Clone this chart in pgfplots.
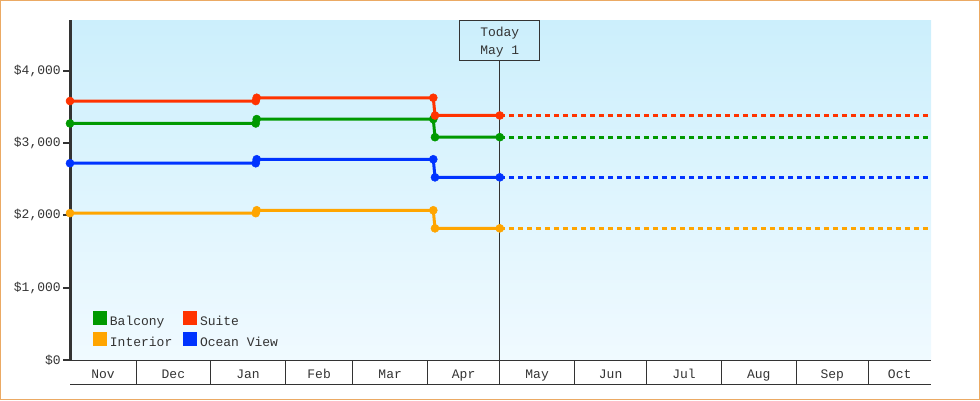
\documentclass[border=0pt]{standalone}
\usepackage{pgfplots}
\pgfplotsset{compat=1.18}
\usepackage{fontspec}
\setmainfont{Liberation Mono}
\definecolor{ink}{RGB}{51,51,51}
\definecolor{bgtop}{RGB}{204,239,252}
\definecolor{bgbot}{RGB}{240,250,255}
\definecolor{frame}{RGB}{235,170,100}
\definecolor{cgreen}{RGB}{0,153,0}
\definecolor{cred}{RGB}{255,51,0}
\definecolor{corange}{RGB}{255,165,0}
\definecolor{cblue}{RGB}{0,51,255}
\newcommand{\chartfont}{\fontsize{9.75pt}{13.5pt}\selectfont}
\begin{document}
\begin{tikzpicture}
\useasboundingbox (0,0) rectangle (735pt,300pt);
\begin{axis}[
  at={(52.5pt,30pt)}, anchor=south west,
  scale only axis, width=645.75pt, height=255pt,
  xmin=2.6, xmax=360, ymin=0, ymax=4700,
  axis x line*=bottom, axis y line*=left,
  x axis line style={ink, line width=0.75pt},
  y axis line style={ink, line width=2.25pt},
  axis background/.style={top color=bgtop, bottom color=bgbot},
  tick align=outside,
  major tick length=3.75pt,
  % month names centred in their boxes
  xtick={16.3,45.5,76.5,106,135.5,166,196.5,227,257.5,288.5,319,347},
  xticklabels={Nov,Dec,Jan,Feb,Mar,Apr,May,Jun,Jul,Aug,Sep,Oct},
  xtick style={draw=none},
  xticklabel style={anchor=base, yshift=-9.75pt},
  % month boundaries
  extra x ticks={30,61,92,120,151,181,212,242,273,304,334},
  extra x tick labels={},
  extra x tick style={major tick length=18pt, xtick style={draw=ink, line width=0.75pt}},
  ytick={0,1000,2000,3000,4000},
  extra y ticks={0,1000,2000,3000,4000},
  extra y tick labels={},
  extra y tick style={major tick length=5pt, tick align=outside,
    ytick style={draw=ink, line width=1.5pt}},
  scaled y ticks=false,
  yticklabel={\$\pgfmathprintnumber{\tick}},
  /pgf/number format/.cd, fixed, precision=0, 1000 sep={,}, assume math mode=true,
  /pgfplots/.cd,
  tick label style={font=\chartfont, text=ink},
  yticklabel style={anchor=east, inner sep=0pt, xshift=-3pt},
  legend columns=2,
  legend cell align=left,
  legend style={at={(axis description cs:0,0)}, anchor=south west,
    xshift=17.25pt, yshift=5pt, draw=none, fill=none, inner sep=0pt,
    font=\chartfont, text=ink,
    nodes={inner sep=0pt, text height=8pt, text depth=5pt},
    /tikz/every odd column/.append style={column sep=2pt},
    /tikz/every even column/.append style={column sep=8.25pt}},
  legend image code/.code={\fill[#1] (0pt,0pt) rectangle (8.25pt,8.25pt);},
  every axis plot/.append style={line width=2.25pt, mark=*, mark size=3pt,
    mark options={solid, line width=0.4pt}},
]
% today marker
\addplot[ink, line width=0.75pt, mark=none, forget plot] coordinates {(181,0) (181,4148)};
\node[draw=ink, line width=0.75pt, anchor=north, minimum width=60pt, minimum height=30pt,
  align=center, inner sep=0pt, font=\chartfont, text=ink] at (axis cs:181,4700) {\strut Today\\May 1};

% Balcony
\addplot[cgreen] coordinates {(2.6,3270) (79.7,3270) (80.1,3330) (153.4,3330) (154.1,3080) (181,3080)};
\addlegendentry{Balcony}
% Suite
\addplot[cred] coordinates {(2.6,3580) (79.7,3580) (80.1,3625) (153.4,3625) (154.1,3380) (181,3380)};
\addlegendentry{Suite}
% Interior
\addplot[corange] coordinates {(2.6,2030) (79.7,2030) (80.1,2070) (153.4,2070) (154.1,1820) (181,1820)};
\addlegendentry{Interior}
% Ocean View
\addplot[cblue] coordinates {(2.6,2720) (79.7,2720) (80.1,2775) (153.4,2775) (154.1,2525) (181,2525)};
\addlegendentry{Ocean View}

% projections after today
\addplot[cgreen, mark=none, dash pattern=on 3.75pt off 3pt, forget plot] coordinates {(181,3080) (360,3080)};
\addplot[cred, mark=none, dash pattern=on 3.75pt off 3pt, forget plot] coordinates {(181,3380) (360,3380)};
\addplot[corange, mark=none, dash pattern=on 3.75pt off 3pt, forget plot] coordinates {(181,1820) (360,1820)};
\addplot[cblue, mark=none, dash pattern=on 3.75pt off 3pt, forget plot] coordinates {(181,2525) (360,2525)};
\end{axis}
\draw[ink, line width=0.75pt] (52.5pt,12pt) -- (698.25pt,12pt);
\draw[frame, line width=0.75pt] (0.375pt,0.375pt) rectangle (734.625pt,299.625pt);
\end{tikzpicture}
\end{document}
